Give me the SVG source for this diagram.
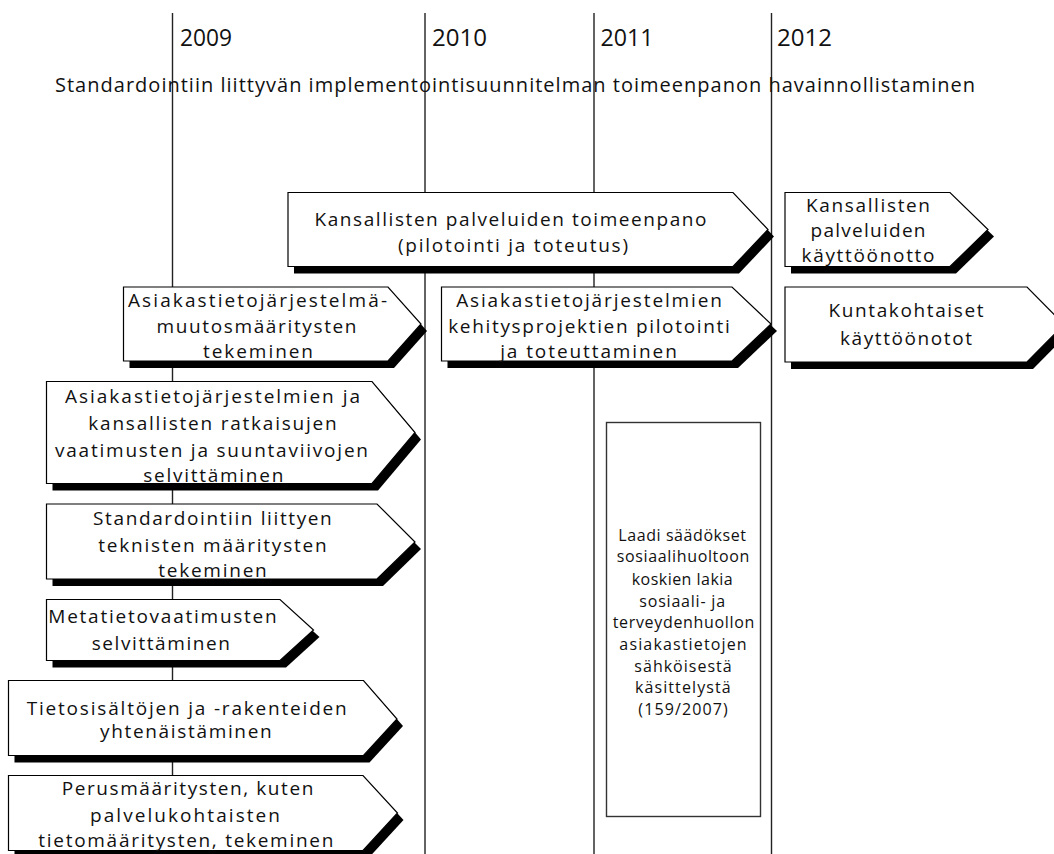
<svg xmlns="http://www.w3.org/2000/svg" width="1054" height="854" viewBox="0 0 1054 854">
  <style>
    .year-line { stroke: #222; stroke-width: 1.4; }
    .year { font-family: "Open Sans", "Liberation Sans", sans-serif; font-size: 23px; fill: #111; }
    .title { font-family: "Open Sans", "Liberation Sans", sans-serif; font-size: 20px; fill: #111; }
    .shadow { fill: #000; stroke: none; }
    .arrow { fill: #fff; stroke: #000; stroke-width: 1.2; stroke-linejoin: miter; }
    .label { font-family: "Open Sans", "Liberation Sans", sans-serif; font-size: 19px; fill: #111; text-anchor: middle; }
    .note-box { fill: #fff; stroke: #333; stroke-width: 1.4; }
    .note { font-family: "Open Sans", "Liberation Sans", sans-serif; font-size: 16px; fill: #111; text-anchor: middle; }
  </style>

  <rect width="1054" height="854" fill="#fff"/>

  <!-- year dividers -->
  <g id="year-lines">
    <line class="year-line" x1="172.5" y1="13" x2="172.5" y2="854"/>
    <line class="year-line" x1="425" y1="13" x2="425" y2="854"/>
    <line class="year-line" x1="594" y1="13" x2="594" y2="854"/>
    <line class="year-line" x1="771.5" y1="13" x2="771.5" y2="854"/>
  </g>

  <g id="years">
    <text class="year" x="180" y="46" textLength="52" lengthAdjust="spacingAndGlyphs">2009</text>
    <text class="year" x="432" y="46" textLength="55" lengthAdjust="spacingAndGlyphs">2010</text>
    <text class="year" x="600.5" y="46" textLength="53" lengthAdjust="spacingAndGlyphs">2011</text>
    <text class="year" x="777" y="46" textLength="55" lengthAdjust="spacingAndGlyphs">2012</text>
  </g>

  <text id="title" class="title" x="55" y="92" textLength="920" lengthAdjust="spacing">Standardointiin liittyvän implementointisuunnitelman toimeenpanon havainnollistaminen</text>

  <!-- 2010–2011 national services -->
  <g id="kansalliset-toimeenpano">
    <polygon class="shadow" transform="translate(6,7)" points="288,192.5 733,192.5 768,229.5 733,266.5 288,266.5"/>
    <polygon class="arrow" points="288,192.5 733,192.5 768,229.5 733,266.5 288,266.5"/>
    <text class="label" x="510.5" y="225.7" textLength="392" lengthAdjust="spacing">Kansallisten palveluiden toimeenpano</text>
    <text class="label" x="513" y="251.5" textLength="230" lengthAdjust="spacing">(pilotointi ja toteutus)</text>
  </g>

  <g id="kansalliset-kayttoonotto">
    <polygon class="shadow" transform="translate(6,7)" points="785,192.5 950,192.5 988,229.5 950,266.5 785,266.5"/>
    <polygon class="arrow" points="785,192.5 950,192.5 988,229.5 950,266.5 785,266.5"/>
    <text class="label" x="868" y="211.7" textLength="124" lengthAdjust="spacing">Kansallisten</text>
    <text class="label" x="868" y="237" textLength="115" lengthAdjust="spacing">palveluiden</text>
    <text class="label" x="868" y="261.7" textLength="133" lengthAdjust="spacing">käyttöönotto</text>
  </g>

  <g id="kuntakohtaiset">
    <polygon class="shadow" transform="translate(6,7)" points="785,287 1027,287 1064,324.5 1027,362 785,362"/>
    <polygon class="arrow" points="785,287 1027,287 1064,324.5 1027,362 785,362"/>
    <text class="label" x="906" y="316.7" textLength="155" lengthAdjust="spacing">Kuntakohtaiset</text>
    <text class="label" x="906" y="345" textLength="132" lengthAdjust="spacing">käyttöönotot</text>
  </g>

  <g id="muutosmaaritykset">
    <polygon class="shadow" transform="translate(6,7)" points="123.5,287 388,287 421,324 388,361 123.5,361"/>
    <polygon class="arrow" points="123.5,287 388,287 421,324 388,361 123.5,361"/>
    <text class="label" x="257.5" y="306.7" textLength="259" lengthAdjust="spacing">Asiakastietojärjestelmä-</text>
    <text class="label" x="256.5" y="333" textLength="200" lengthAdjust="spacing">muutosmääritysten</text>
    <text class="label" x="258" y="358.3" textLength="110" lengthAdjust="spacing">tekeminen</text>
  </g>

  <g id="kehitysprojektit">
    <polygon class="shadow" transform="translate(6,7)" points="441.5,287 732,287 771,324 732,361 441.5,361"/>
    <polygon class="arrow" points="441.5,287 732,287 771,324 732,361 441.5,361"/>
    <text class="label" x="589" y="306.7" textLength="265.7" lengthAdjust="spacing">Asiakastietojärjestelmien</text>
    <text class="label" x="589" y="333.3" textLength="281.7" lengthAdjust="spacing">kehitysprojektien pilotointi</text>
    <text class="label" x="588.5" y="358.3" textLength="176.7" lengthAdjust="spacing">ja toteuttaminen</text>
  </g>

  <g id="vaatimukset">
    <polygon class="shadow" transform="translate(6,7)" points="46.5,381.5 372,381.5 415,432.5 372,483.5 46.5,483.5"/>
    <polygon class="arrow" points="46.5,381.5 372,381.5 415,432.5 372,483.5 46.5,483.5"/>
    <text class="label" x="212.5" y="403.3" textLength="295" lengthAdjust="spacing">Asiakastietojärjestelmien ja</text>
    <text class="label" x="212.5" y="430" textLength="248.4" lengthAdjust="spacing">kansallisten ratkaisujen</text>
    <text class="label" x="211.5" y="456.7" textLength="313" lengthAdjust="spacing">vaatimusten ja suuntaviivojen</text>
    <text class="label" x="213.3" y="481.7" textLength="140" lengthAdjust="spacing">selvittäminen</text>
  </g>

  <g id="tekniset-maaritykset">
    <polygon class="shadow" transform="translate(6,7)" points="46.5,504 377,504 415,542 377,579 46.5,579"/>
    <polygon class="arrow" points="46.5,504 377,504 415,542 377,579 46.5,579"/>
    <text class="label" x="212.4" y="525" textLength="238.7" lengthAdjust="spacing">Standardointiin liittyen</text>
    <text class="label" x="212.5" y="551.7" textLength="228.4" lengthAdjust="spacing">teknisten määritysten</text>
    <text class="label" x="212.5" y="576.7" textLength="108.4" lengthAdjust="spacing">tekeminen</text>
  </g>

  <g id="metatieto">
    <polygon class="shadow" transform="translate(6,7)" points="46.5,599.5 280,599.5 313.5,630 280,660.5 46.5,660.5"/>
    <polygon class="arrow" points="46.5,599.5 280,599.5 313.5,630 280,660.5 46.5,660.5"/>
    <text class="label" x="162.5" y="623.3" textLength="228.4" lengthAdjust="spacing">Metatietovaatimusten</text>
    <text class="label" x="160.8" y="650" textLength="138.3" lengthAdjust="spacing">selvittäminen</text>
  </g>

  <g id="tietosisallot">
    <polygon class="shadow" transform="translate(6,7)" points="8.5,680.5 363.5,680.5 397,719 363.5,755.5 8.5,755.5"/>
    <polygon class="arrow" points="8.5,680.5 363.5,680.5 397,719 363.5,755.5 8.5,755.5"/>
    <text class="label" x="186.7" y="715" textLength="320" lengthAdjust="spacing">Tietosisältöjen ja -rakenteiden</text>
    <text class="label" x="185.8" y="738.3" textLength="171.7" lengthAdjust="spacing">yhtenäistäminen</text>
  </g>

  <g id="perusmaaritykset">
    <polygon class="shadow" transform="translate(6,7)" points="8.5,775.5 363,775.5 397.5,813 363,850.5 8.5,850.5"/>
    <polygon class="arrow" points="8.5,775.5 363,775.5 397.5,813 363,850.5 8.5,850.5"/>
    <text class="label" x="187.5" y="795" textLength="251.6" lengthAdjust="spacing">Perusmääritysten, kuten</text>
    <text class="label" x="185" y="821.7" textLength="190" lengthAdjust="spacing">palvelukohtaisten</text>
    <text class="label" x="185.8" y="846.7" textLength="295" lengthAdjust="spacing">tietomääritysten, tekeminen</text>
  </g>

  <!-- legislation note -->
  <g id="saadokset">
    <rect class="note-box" x="606.5" y="422.5" width="154" height="394"/>
    <text class="note" x="682.2" y="541" textLength="127.7" lengthAdjust="spacing">Laadi säädökset</text>
    <text class="note" x="683" y="561.7" textLength="132.7" lengthAdjust="spacing">sosiaalihuoltoon</text>
    <text class="note" x="682.2" y="585" textLength="101" lengthAdjust="spacing">koskien lakia</text>
    <text class="note" x="682.2" y="606.7" textLength="85.7" lengthAdjust="spacing">sosiaali- ja</text>
    <text class="note" x="683.5" y="628.3" textLength="141.7" lengthAdjust="spacing">terveydenhuollon</text>
    <text class="note" x="683" y="650" textLength="127.3" lengthAdjust="spacing">asiakastietojen</text>
    <text class="note" x="683" y="671.7" textLength="97.3" lengthAdjust="spacing">sähköisestä</text>
    <text class="note" x="682.8" y="693.3" textLength="95.7" lengthAdjust="spacing">käsittelystä</text>
    <text class="note" x="683" y="715" textLength="89.3" lengthAdjust="spacing">(159/2007)</text>
  </g>
</svg>
